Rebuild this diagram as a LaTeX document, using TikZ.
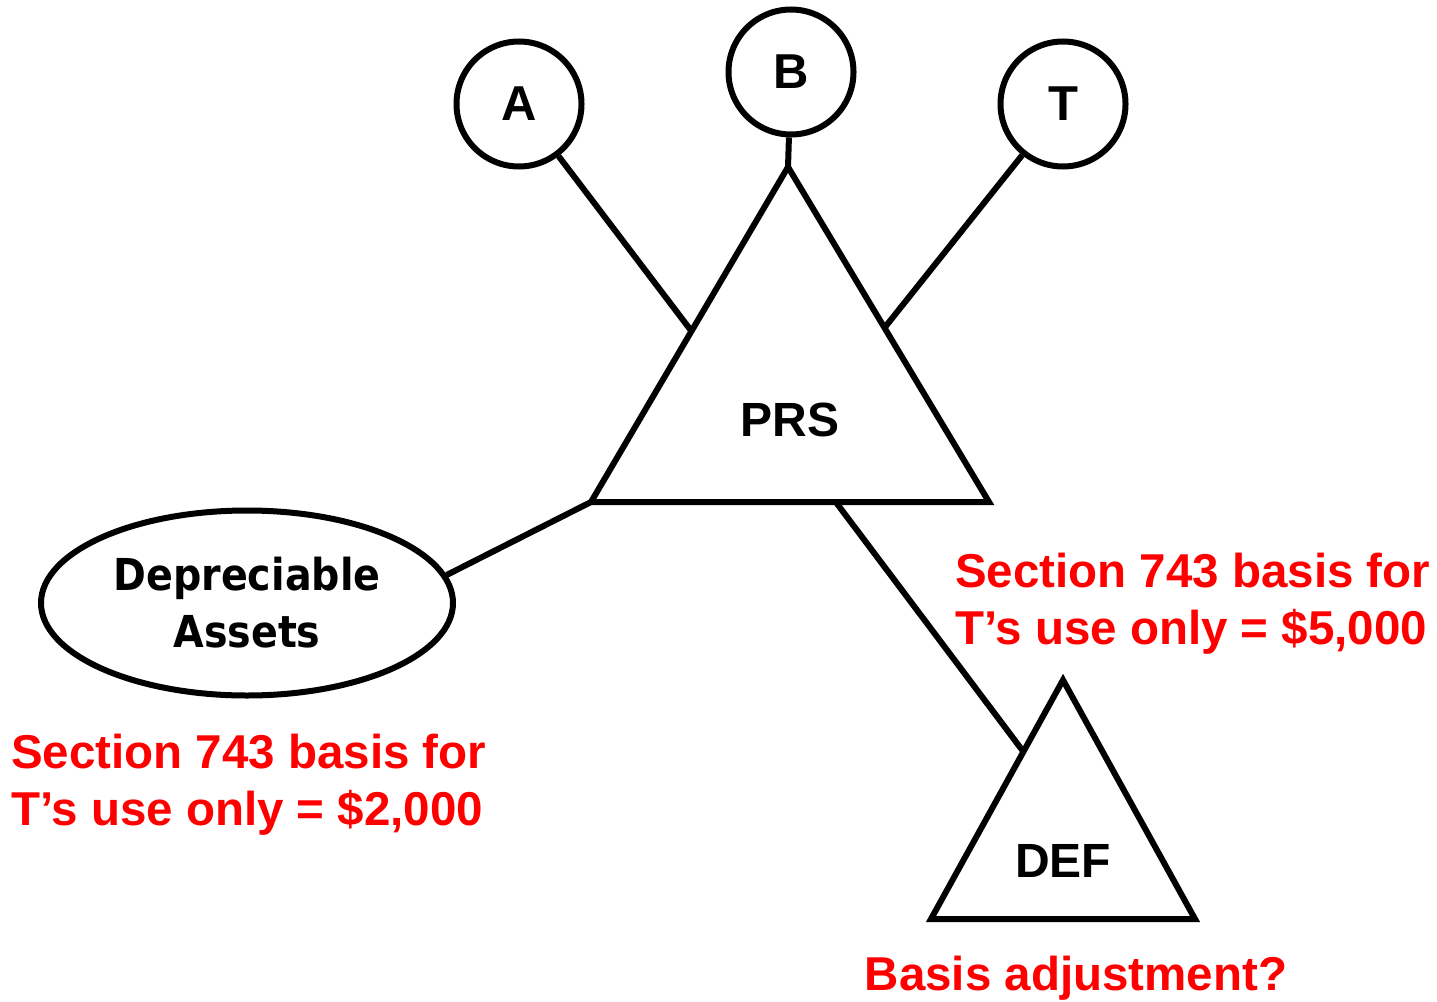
\documentclass[tikz,border=0pt]{standalone}
\usepackage{fontspec}
\setmainfont{Liberation Sans}
\newfontfamily\assetfont[FakeStretch=0.9]{DejaVu Sans}
\usetikzlibrary{calc, shapes.geometric}

\tikzset{
    partner/.style={circle, draw, minimum size=125pt, inner sep=0pt,
        font=\fontsize{49}{58}\selectfont\bfseries},
    entity/.style={font=\fontsize{48}{58}\selectfont\bfseries},
    basisnote/.style={text=red, inner sep=0pt,
        font=\fontsize{47.5}{54}\selectfont\bfseries},
}

\begin{document}
\begin{tikzpicture}[x=1pt, y=-1pt, line width=6pt]
    \useasboundingbox (0,0) rectangle (1437,1001);

    % partnership and lower-tier partnership
    \coordinate (P1) at (788,167);
    \coordinate (P2) at (591,502);
    \coordinate (P3) at (989,502);
    \coordinate (D1) at (1063,680);
    \coordinate (D2) at (931,919);
    \coordinate (D3) at (1195,919);

    \draw (P1) -- (P2) -- (P3) -- cycle;
    \draw (D1) -- (D2) -- (D3) -- cycle;

    \node[entity] (PRS) at (790,420) {PRS};
    \node[entity] (DEF) at (1063,861) {DEF};

    % partners
    \foreach \n/\x/\y in {A/519/104, B/791/72, T/1063/104}
    \node[partner] (\n) at (\x,\y) {\n};

    \node[ellipse, draw, minimum width=412pt, minimum height=185pt, inner sep=0pt,
        align=center, font=\assetfont\bfseries\fontsize{44}{57}\selectfont]
        (assets) at (247,603) {Depreciable\\Assets};

    % where the links meet the triangles
    \coordinate (PRSa) at ($(P1)!0.49!(P2)$);
    \coordinate (PRSt) at ($(P1)!0.48!(P3)$);
    \coordinate (PRSd) at ($(P2)!0.615!(P3)$);
    \coordinate (DEFin) at ($(D1)!0.3!(D2)$);

    \draw (A) -- (PRSa);
    \draw (B) -- (P1);
    \draw (T) -- (PRSt);
    \draw (assets.8) -- (P2);
    \draw (PRSd) -- (DEFin);

    % section 743 notes
    \node[basisnote, anchor=base west] (noteA1) at (8,768) {Section 743 basis for};
    \node[basisnote, anchor=base west] (noteA2) at (8,825) {T’s use only = \$2,000};
    \node[basisnote, anchor=base west] (noteD1) at (952,587) {Section 743 basis for};
    \node[basisnote, anchor=base west] (noteD2) at (952,644) {T’s use only = \$5,000};
    \node[basisnote, anchor=base] (adjust) at (1076,990) {Basis adjustment?};
\end{tikzpicture}
\end{document}
